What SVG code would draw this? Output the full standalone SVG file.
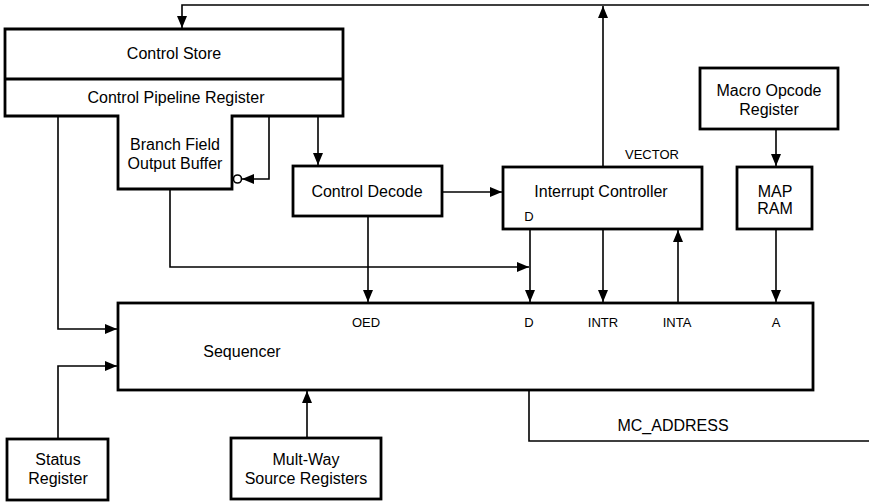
<svg xmlns="http://www.w3.org/2000/svg" width="869" height="503" viewBox="0 0 869 503">
<defs>
<style>
.box{fill:#fff;stroke:#000;stroke-width:2.8}
.ln{fill:none;stroke:#000;stroke-width:1.6}
.t{font-family:"Liberation Sans",Arial,sans-serif;font-size:16px;fill:#000;text-anchor:middle}
.s{font-family:"Liberation Sans",Arial,sans-serif;font-size:13px;fill:#000;text-anchor:middle}
</style>
<marker id="ah" viewBox="0 0 12 11" refX="12" refY="5.5" markerWidth="12" markerHeight="11" markerUnits="userSpaceOnUse" orient="auto">
<path d="M0,0.5 L12,5.5 L0,10.5 Z" fill="#000"/>
</marker>
</defs>
<rect width="869" height="503" fill="#fff"/>
<g id="connectors">
<path class="ln" d="M869,5 H182 V28" marker-end="url(#ah)"/>
<path class="ln" d="M603,167 V6" marker-end="url(#ah)"/>
<path class="ln" d="M269,116 V179 H242" marker-end="url(#ah)"/>
<path class="ln" d="M318,116 V165" marker-end="url(#ah)"/>
<path class="ln" d="M442,192 H502" marker-end="url(#ah)"/>
<path class="ln" d="M58,116 V329 H117" marker-end="url(#ah)"/>
<path class="ln" d="M170,189 V267 H529" marker-end="url(#ah)"/>
<path class="ln" d="M368,216 V302" marker-end="url(#ah)"/>
<path class="ln" d="M530,229 V302" marker-end="url(#ah)"/>
<path class="ln" d="M603,229 V302" marker-end="url(#ah)"/>
<path class="ln" d="M678,303 V230" marker-end="url(#ah)"/>
<path class="ln" d="M776,129 V166" marker-end="url(#ah)"/>
<path class="ln" d="M776,229 V302" marker-end="url(#ah)"/>
<path class="ln" d="M58,439 V366 H117" marker-end="url(#ah)"/>
<path class="ln" d="M307,438 V391" marker-end="url(#ah)"/>
<path class="ln" d="M529,390 V441 H869"/>
<circle cx="237.5" cy="179" r="4" fill="#fff" stroke="#000" stroke-width="1.6"/>
</g>
<g id="control-store">
<path class="box" d="M5,29 H343 V116 H232 V189 H118 V116 H5 Z"/>
<line x1="5" y1="79" x2="343" y2="79" stroke="#000" stroke-width="2.8"/>
<text class="t" x="174" y="59">Control Store</text>
<text class="t" x="176" y="103">Control Pipeline Register</text>
<text class="t" x="175" y="150">Branch Field</text>
<text class="t" x="175" y="169">Output Buffer</text>
</g>
<g id="control-decode">
<rect class="box" x="293" y="166" width="149" height="50"/>
<text class="t" x="367" y="197">Control Decode</text>
</g>
<g id="interrupt-controller">
<rect class="box" x="503" y="167" width="199" height="62"/>
<text class="t" x="601" y="197">Interrupt Controller</text>
<text class="s" x="529" y="221">D</text>
<text class="s" x="652" y="159">VECTOR</text>
</g>
<g id="macro-opcode-register">
<rect class="box" x="700" y="68" width="138" height="61"/>
<text class="t" x="769" y="96">Macro Opcode</text>
<text class="t" x="769" y="115">Register</text>
</g>
<g id="map-ram">
<rect class="box" x="737" y="167" width="75" height="62"/>
<text class="t" x="775" y="197">MAP</text>
<text class="t" x="775" y="214">RAM</text>
</g>
<g id="sequencer">
<rect class="box" x="118" y="303" width="695" height="87"/>
<text class="t" x="242" y="357">Sequencer</text>
<text class="s" x="366" y="327">OED</text>
<text class="s" x="529" y="327">D</text>
<text class="s" x="603" y="327">INTR</text>
<text class="s" x="677" y="327">INTA</text>
<text class="s" x="776" y="327">A</text>
</g>
<g id="mc-address">
<text class="t" x="673" y="431">MC_ADDRESS</text>
</g>
<g id="status-register">
<rect class="box" x="7" y="439" width="101" height="61"/>
<text class="t" x="58" y="465">Status</text>
<text class="t" x="58" y="484">Register</text>
</g>
<g id="multway-source-registers">
<rect class="box" x="231" y="438" width="150" height="61"/>
<text class="t" x="306" y="465">Mult-Way</text>
<text class="t" x="306" y="484">Source Registers</text>
</g>
</svg>
